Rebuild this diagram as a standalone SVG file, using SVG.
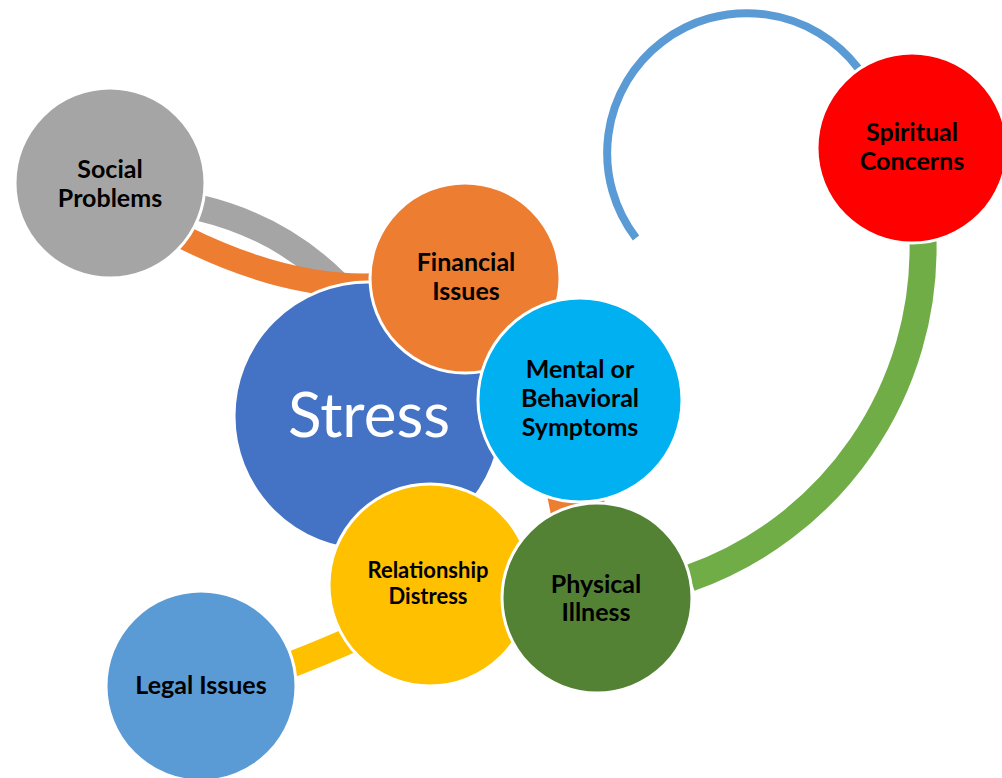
<svg xmlns="http://www.w3.org/2000/svg" width="1002" height="778" viewBox="0 0 1002 778">
<style>
.n{stroke:#fff;stroke-width:3}
.t{font-family:Lato,"Open Sans","Liberation Sans",sans-serif;font-weight:bold;font-size:25px;fill:#000;text-anchor:middle}
.band{fill:none}
</style>
<rect width="1002" height="778" fill="#fff"/>
<g id="connectors">
<path class="band" d="M 200,208 Q 292,230 352,300" stroke="#A5A5A5" stroke-width="26"/>
<path class="band" d="M 185,238 Q 290,290 380,285" stroke="#ED7D31" stroke-width="24"/>
<polygon points="542,470 600,470 610,540 556,540" fill="#ED7D31"/>
<path class="band" d="M 260,676 Q 320,655 390,622" stroke="#FFC000" stroke-width="26"/>
<path class="band" d="M 636,238 A 139,139 0 1 1 858,68" stroke="#5B9BD5" stroke-width="8"/>
<path class="band" d="M 923,240 A 350,350 0 0 1 690,578" stroke="#70AD47" stroke-width="27"/>
</g>
<g id="social-problems"><circle class="n" cx="110" cy="183" r="95" fill="#A5A5A5"/>
<text class="t" x="110" y="178">Social</text><text class="t" x="110" y="207">Problems</text></g>
<g id="stress"><circle class="n" cx="368" cy="416" r="134" fill="#4472C4"/>
<text x="369" y="437" font-family="Lato,'Open Sans',sans-serif" font-size="62" fill="#fff" text-anchor="middle">Stress</text></g>
<g id="financial-issues"><circle class="n" cx="465" cy="278" r="95" fill="#ED7D31"/>
<text class="t" x="466" y="271">Financial</text><text class="t" x="466" y="300">Issues</text></g>
<g id="mental-behavioral"><circle class="n" cx="580" cy="400" r="102" fill="#00B0F0"/>
<text class="t" x="580" y="378">Mental or</text><text class="t" x="580" y="407">Behavioral</text><text class="t" x="580" y="436">Symptoms</text></g>
<g id="relationship-distress"><circle class="n" cx="430" cy="585" r="101" fill="#FFC000"/>
<text class="t" x="428" y="578" style="font-size:22px">Relationship</text><text class="t" x="428" y="604" style="font-size:22px">Distress</text></g>
<g id="physical-illness"><circle class="n" cx="597" cy="598" r="95" fill="#548235"/>
<text class="t" x="596" y="593">Physical</text><text class="t" x="596" y="621">Illness</text></g>
<g id="legal-issues"><circle class="n" cx="201" cy="686" r="95" fill="#5B9BD5"/>
<text class="t" x="201" y="694">Legal Issues</text></g>
<g id="spiritual-concerns"><circle class="n" cx="912" cy="148" r="95" fill="#FF0000"/>
<text class="t" x="912" y="141">Spiritual</text><text class="t" x="912" y="170">Concerns</text></g>
</svg>
